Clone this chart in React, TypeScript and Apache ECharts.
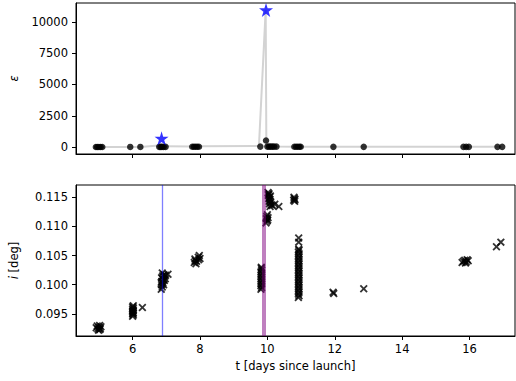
import React, { useEffect, useRef } from "react";
import * as echarts from "echarts";

// ---- Data ----
// Top panel: epsilon values at observation times (black dots)
const epsT = [4.91, 4.95, 5.0, 5.05, 5.1, 5.93, 6.23, 6.79, 6.83, 6.87, 6.92, 6.98, 7.77, 7.82, 7.87, 7.92, 7.97, 9.79, 9.96, 10.0, 10.05, 10.1, 10.15, 10.2, 10.27, 10.8, 10.85, 10.9, 10.95, 10.99, 11.96, 12.86, 15.82, 15.9, 15.98, 16.83, 16.97];
const epsV = [10, 10, 10, 10, 10, 15, 15, 20, 20, 20, 20, 20, 25, 25, 25, 25, 25, 40, 530, 40, 40, 40, 40, 40, 40, 30, 30, 30, 30, 30, 20, 20, 20, 20, 20, 20, 20];
// Grey connecting line
const lineT = [4.91, 5.1, 5.93, 6.23, 6.86, 6.98, 7.77, 7.97, 9.75, 9.95, 9.97, 10.27, 10.8, 10.99, 11.96, 12.86, 15.82, 15.98, 16.83, 16.97];
const lineV = [10, 10, 15, 15, 150, 60, 50, 60, 90, 10950, 60, 40, 30, 30, 20, 20, 20, 20, 20, 20];
// Stars (events)
const starT = [6.86, 9.96];
const starV = [700, 10950];

// Bottom panel: inclination [deg] vs time
const incPoints: [number, number][] = [
  [4.92, 0.0926], [4.95, 0.0929], [4.97, 0.0924], [5.0, 0.0927], [5.02, 0.093], [5.04, 0.0925], [5.06, 0.0928], [4.99, 0.0922], [5.03, 0.0923],
  [6.0, 0.0946], [6.02, 0.0948], [6.0, 0.095], [6.02, 0.0952], [6.0, 0.0954], [6.02, 0.0956], [6.0, 0.0958], [6.02, 0.096], [6.0, 0.0962], [6.02, 0.0964], [6.01, 0.0955], [6.01, 0.0951], [6.29, 0.0961],
  [6.85, 0.0992], [6.88, 0.0996], [6.86, 0.1], [6.9, 0.1003], [6.87, 0.1006], [6.91, 0.1009], [6.86, 0.1012], [6.89, 0.1015], [6.93, 0.1017], [6.88, 0.102], [6.95, 0.1014], [6.97, 0.101], [6.92, 0.1], [6.85, 0.1004], [6.94, 0.1007], [7.05, 0.1018], [6.98, 0.1016],
  [7.83, 0.1038], [7.86, 0.1041], [7.88, 0.1036], [7.85, 0.1044], [7.9, 0.104], [7.95, 0.1047], [7.98, 0.105], [8.0, 0.1045], [7.96, 0.1043],
  [9.81, 0.0992], [9.83, 0.0995], [9.81, 0.0998], [9.83, 0.1001], [9.81, 0.1004], [9.83, 0.1007], [9.81, 0.101], [9.83, 0.1013], [9.81, 0.1016], [9.83, 0.1019], [9.81, 0.1022], [9.83, 0.1025], [9.82, 0.1028], [9.82, 0.103],
  [9.96, 0.1106], [9.99, 0.1109], [9.97, 0.1113], [10.01, 0.1111], [9.98, 0.1117], [10.0, 0.112], [10.02, 0.1115],
  [10.02, 0.1158], [10.05, 0.1156], [10.03, 0.1153], [10.07, 0.115], [10.04, 0.1148], [10.08, 0.1146], [10.05, 0.1143], [10.1, 0.1141], [10.06, 0.1139], [10.12, 0.1137], [10.08, 0.1134], [10.15, 0.1136], [10.03, 0.1155], [10.09, 0.1152], [10.34, 0.1134], [10.22, 0.1138],
  [10.78, 0.1145], [10.8, 0.1148], [10.82, 0.1146], [10.79, 0.115], [10.81, 0.1143],
  [10.92, 0.0978], [10.94, 0.0981], [10.92, 0.0984], [10.94, 0.0987], [10.92, 0.099], [10.94, 0.0993], [10.92, 0.0996], [10.94, 0.0999], [10.92, 0.1002], [10.94, 0.1005], [10.92, 0.1008], [10.94, 0.1011], [10.92, 0.1014], [10.94, 0.1017], [10.92, 0.102], [10.94, 0.1023], [10.92, 0.1026], [10.94, 0.1029], [10.92, 0.1032], [10.94, 0.1035], [10.92, 0.1038], [10.94, 0.1041], [10.92, 0.1044], [10.94, 0.1047], [10.92, 0.105], [10.94, 0.1053], [10.92, 0.1056], [10.94, 0.1059], [10.93, 0.1061], [10.93, 0.1073], [10.93, 0.108],
  [11.95, 0.0987], [11.97, 0.0985], [12.86, 0.0993],
  [15.78, 0.1038], [15.82, 0.104], [15.86, 0.1042], [15.9, 0.1039], [15.93, 0.1043], [15.96, 0.1041], [15.88, 0.1037],
  [16.8, 0.1065], [16.93, 0.1073],
];
// Vertical reference lines (event times)
const eventBlueT = 6.88;
const eventPurpleT = 9.89;

const xTicks = [6, 8, 10, 12, 14, 16];
const epsTicks = [0, 2500, 5000, 7500, 10000];
const incTicks = [0.095, 0.1, 0.105, 0.11, 0.115];

const FONT = "DejaVu Sans";
const STAR = "path://M50,0 L61,35 L98,35 L68,57 L79,91 L50,70 L21,91 L32,57 L2,35 L39,35 Z";
const XMARK = "path://M0,1.6 L1.6,0 L5,3.4 L8.4,0 L10,1.6 L6.6,5 L10,8.4 L8.4,10 L5,6.6 L1.6,10 L0,8.4 L3.4,5 Z";

export default function App() {
  const ref = useRef<HTMLDivElement>(null);
  useEffect(() => {
    if (!ref.current) return;
    const chart = echarts.init(ref.current, undefined, { renderer: "svg" });
    const xBase = (idx: number, showLabels: boolean, extra: any = {}) => ({
      type: "value",
      gridIndex: idx,
      min: 4.32,
      max: 17.35,
      axisLine: { show: true, onZero: false, lineStyle: { color: "#000", width: 1 } },
      axisTick: { show: true, inside: false, length: 4, lineStyle: { color: "#000" }, customValues: xTicks },
      axisLabel: { show: showLabels, customValues: xTicks, margin: 7, color: "#000", fontFamily: FONT, fontSize: 11.5 },
      splitLine: { show: false },
      ...extra,
    });
    const option: any = {
      animation: false,
      backgroundColor: "#fff",
      grid: [
        { left: 73, top: 3, width: 442, height: 151, show: true, borderColor: "#000", borderWidth: 1 },
        { left: 73, top: 185, width: 442, height: 151, show: true, borderColor: "#000", borderWidth: 1 },
      ],
      xAxis: [
        xBase(0, false),
        xBase(1, true, {
          name: "t [days since launch]",
          nameLocation: "middle",
          nameGap: 24,
          nameTextStyle: { color: "#000", fontFamily: FONT, fontSize: 11.5 },
        }),
      ],
      yAxis: [
        {
          type: "value",
          gridIndex: 0,
          min: -550,
          max: 11500,
          name: "ε",
          nameLocation: "middle",
          nameGap: 56,
          nameTextStyle: { color: "#000", fontFamily: FONT, fontSize: 11.5, fontStyle: "italic" },
          axisLine: { show: true, onZero: false, lineStyle: { color: "#000" } },
          axisTick: { show: true, inside: false, length: 4, lineStyle: { color: "#000" }, customValues: epsTicks },
          axisLabel: {
            customValues: epsTicks,
            margin: 8,
            color: "#000",
            fontFamily: FONT,
            fontSize: 11.5,
            formatter: (v: number) => String(Math.round(v)),
          },
          splitLine: { show: false },
        },
        {
          type: "value",
          gridIndex: 1,
          min: 0.0912,
          max: 0.1171,
          name: "{it|i} [deg]",
          nameLocation: "middle",
          nameGap: 56,
          nameTextStyle: {
            color: "#000",
            fontFamily: FONT,
            fontSize: 11.5,
            rich: { it: { fontStyle: "italic", fontFamily: FONT, fontSize: 11.5, color: "#000" } },
          },
          axisLine: { show: true, onZero: false, lineStyle: { color: "#000" } },
          axisTick: { show: true, inside: false, length: 4, lineStyle: { color: "#000" }, customValues: incTicks },
          axisLabel: {
            customValues: incTicks,
            margin: 8,
            color: "#000",
            fontFamily: FONT,
            fontSize: 11.5,
            formatter: (v: number) => v.toFixed(3),
          },
          splitLine: { show: false },
        },
      ],
      series: [
        {
          type: "line",
          xAxisIndex: 0,
          yAxisIndex: 0,
          data: lineT.map((t, k) => [t, lineV[k]]),
          showSymbol: false,
          symbol: "none",
          lineStyle: { color: "#d3d3d3", width: 2 },
          z: 1,
        },
        {
          type: "scatter",
          xAxisIndex: 0,
          yAxisIndex: 0,
          data: epsT.map((t, k) => [t, epsV[k]]),
          symbol: "circle",
          symbolSize: 6.5,
          itemStyle: { color: "#000" },
          z: 2,
        },
        {
          type: "scatter",
          xAxisIndex: 0,
          yAxisIndex: 0,
          data: starT.map((t, k) => [t, starV[k]]),
          symbol: STAR,
          symbolSize: 14,
          itemStyle: { color: "#0000ff" },
          z: 3,
        },
        {
          type: "scatter",
          xAxisIndex: 1,
          yAxisIndex: 1,
          data: incPoints,
          symbol: XMARK,
          symbolSize: 8,
          itemStyle: { color: "#000" },
          z: 3,
          markLine: {
            silent: true,
            symbol: "none",
            label: { show: false },
            data: [
              { xAxis: eventBlueT, lineStyle: { color: "rgba(0,0,255,0.5)", width: 1.3, type: "solid" } },
              { xAxis: eventPurpleT, lineStyle: { color: "rgba(128,0,128,0.5)", width: 4, type: "solid" } },
            ],
          },
        },
      ],
    };
    chart.setOption(option);
    return () => chart.dispose();
  }, []);
  return <div ref={ref} style={{ width: 516, height: 381, position: "absolute", left: 0, top: 0, background: "#fff" }} />;
}
